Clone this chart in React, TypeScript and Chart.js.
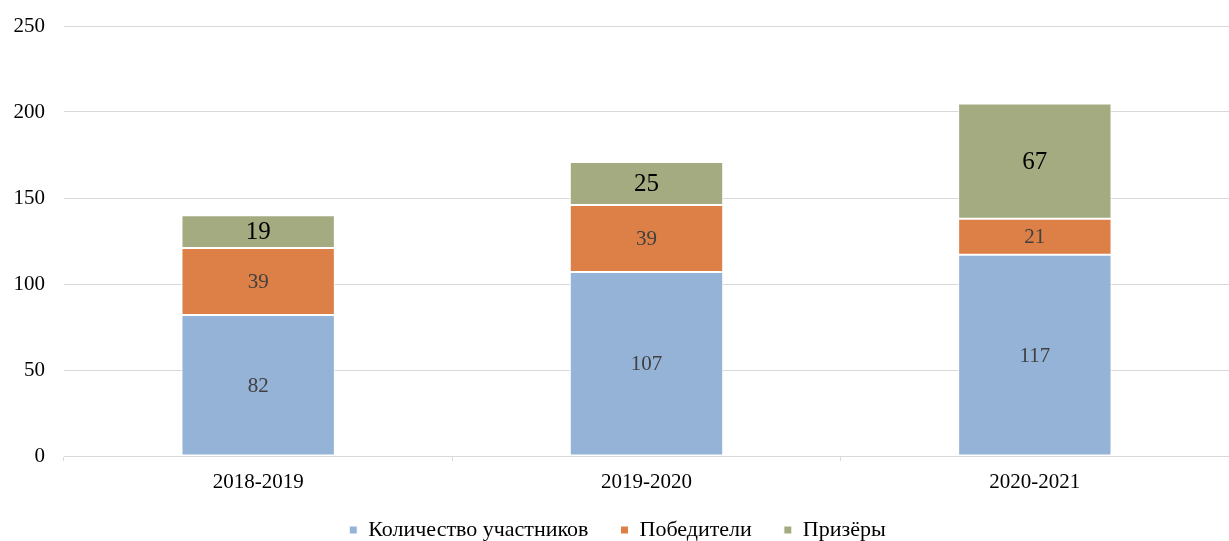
import React, { useEffect, useRef } from "react";
import { Chart, registerables } from "chart.js";

Chart.register(...registerables);

const categories = ["2018-2019", "2019-2020", "2020-2021"];
const participants = [82, 107, 117];
const winners = [39, 39, 21];
const prizewinners = [19, 25, 67];
const seriesNames = ["Количество участников", "Победители", "Призёры"];
const yTicks = [0, 50, 100, 150, 200, 250];

const FONT = "'Liberation Serif', 'Times New Roman', serif";

const labelPlugin = {
  id: "barLabels",
  afterDatasetsDraw(chart: any) {
    const ctx = chart.ctx;
    chart.data.datasets.forEach((ds: any, i: number) => {
      const meta = chart.getDatasetMeta(i);
      meta.data.forEach((el: any, j: number) => {
        const v = ds.data[j];
        const cy = (el.y + el.base) / 2;
        ctx.save();
        ctx.textAlign = "center";
        ctx.textBaseline = "middle";
        if (i === 2) {
          ctx.fillStyle = "#000000";
          ctx.font = `25px ${FONT}`;
        } else {
          ctx.fillStyle = "#404040";
          ctx.font = `21px ${FONT}`;
        }
        ctx.fillText(String(v), el.x, cy + 1);
        ctx.restore();
      });
    });
  },
};

const legendShift = {
  id: "legendShift",
  afterLayout(chart: any) {
    const lg = chart.legend;
    if (lg) {
      lg.top -= 14;
      lg.bottom -= 14;
    }
  },
};

export default function App() {
  const ref = useRef<HTMLCanvasElement | null>(null);
  useEffect(() => {
    if (!ref.current) return;
    const colors = ["#95B3D7", "#DD8047", "#A5AB81"];
    const values = [participants, winners, prizewinners];
    const chart = new Chart(ref.current, {
      type: "bar",
      data: {
        labels: categories,
        datasets: seriesNames.map((name, i) => ({
          label: name,
          data: values[i],
          backgroundColor: colors[i],
          borderColor: "#ffffff",
          borderWidth: 1,
          borderSkipped: false,
          barPercentage: 0.395,
          categoryPercentage: 1,
        })),
      },
      options: {
        responsive: true,
        maintainAspectRatio: false,
        animation: false,
        layout: { padding: { top: 26, right: -6, left: 0, bottom: -24 } },
        plugins: {
          tooltip: { enabled: false },
          legend: {
            position: "bottom",
            labels: {
              boxWidth: 8,
              boxHeight: 8,
              padding: 32,
              color: "#000000",
              font: { family: FONT, size: 22 },
            },
          },
        },
        scales: {
          x: {
            stacked: true,
            offset: true,
            afterFit(scale: any) {
              scale.height = 45;
            },
            grid: {
              offset: true,
              drawOnChartArea: false,
              drawTicks: true,
              tickLength: 5,
              color: "#d9d9d9",
            },
            border: { display: true, color: "#d9d9d9" },
            ticks: {
              color: "#000000",
              padding: 9,
              font: { family: FONT, size: 21 },
            },
          },
          y: {
            stacked: true,
            min: 0,
            max: 250,
            afterFit(scale: any) {
              scale.width = 64;
            },
            afterBuildTicks(scale: any) {
              scale.ticks = yTicks.map((v) => ({ value: v }));
            },
            grid: {
              drawTicks: true,
              tickLength: 19,
              tickColor: "rgba(0,0,0,0)",
              color: "#d9d9d9",
            },
            border: { display: false },
            ticks: {
              color: "#000000",
              padding: 0,
              font: { family: FONT, size: 21 },
            },
          },
        },
      },
      plugins: [labelPlugin, legendShift],
    } as any);
    return () => chart.destroy();
  }, []);
  return (
    <div style={{ position: "fixed", left: 0, top: 0, width: 1229, height: 541 }}>
      <canvas ref={ref} />
    </div>
  );
}
